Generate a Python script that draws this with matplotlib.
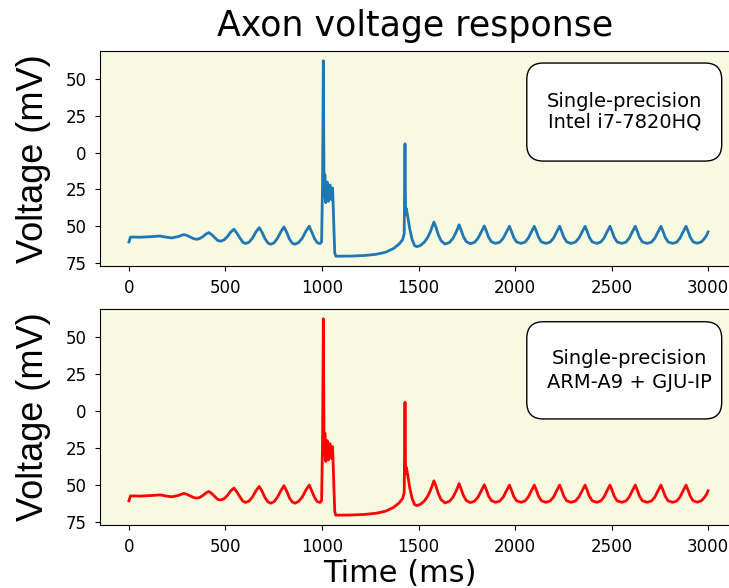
import matplotlib
matplotlib.use('Agg')
import matplotlib.pyplot as plt
from matplotlib.patches import FancyBboxPatch

# membrane voltage (time in ms, voltage in mV)
t_ms = [0, 8, 60, 120, 160, 190, 221, 255,
        285, 300, 318, 335, 351, 367, 383, 400,
        414, 430, 445, 460, 475, 493, 510, 528,
        544, 560, 575, 590, 604, 622, 640, 658,
        675, 690, 705, 720, 734, 752, 770, 788,
        803, 818, 832, 846, 860, 879, 898, 917,
        934, 948, 962, 976, 990, 998,
        1003, 1007, 1011, 1015, 1020, 1027, 1034, 1042, 1050, 1055, 1060, 1066,
        1072, 1150, 1220, 1280, 1330, 1370, 1400, 1418, 1426,
        1430, 1433, 1437, 1445, 1455, 1467, 1480, 1492, 1510, 1530, 1548, 1562, 1572,
        1580, 1590, 1602, 1617, 1637, 1660, 1678, 1693, 1703,
        1710, 1720, 1732, 1747, 1768, 1790, 1808, 1822, 1833,
        1841, 1851, 1863, 1878, 1899, 1921, 1939, 1953, 1964,
        1971, 1981, 1993, 2008, 2031, 2052, 2069, 2082, 2093,
        2100, 2110, 2122, 2137, 2160, 2182, 2200, 2213, 2224,
        2231, 2241, 2253, 2268, 2291, 2313, 2331, 2345, 2356,
        2363, 2373, 2385, 2400, 2423, 2444, 2461, 2474, 2485,
        2492, 2502, 2514, 2529, 2553, 2575, 2592, 2605, 2616,
        2623, 2633, 2645, 2660, 2685, 2707, 2725, 2738, 2749,
        2756, 2766, 2778, 2793, 2817, 2838, 2855, 2868, 2879,
        2886, 2896, 2908, 2923, 2944, 2965, 2982, 2993, 3000]

v_intel = [-60.6, -57.3, -57.4, -57.0, -56.6, -57.3, -57.9, -57.0,
           -55.6, -56.2, -57.3, -58.4, -58.8, -58.3, -57.0, -55.2,
           -54.3, -55.8, -57.8, -59.6, -60.1, -59.2, -57.0, -53.8,
           -52.0, -54.8, -58.0, -60.8, -61.7, -60.8, -58.0, -53.8,
           -50.9, -54.2, -58.5, -61.3, -62.2, -61.2, -58.0, -53.5,
           -50.4, -54.3, -58.8, -61.4, -62.2, -61.0, -58.0, -53.3,
           -50.0, -54.3, -58.5, -61.2, -61.7, -60.5,
           -20.0, 62.2, -30.0, -15.0, -34.0, -20.0, -33.0, -22.0, -32.0, -24.0, -45.0, -68.0,
           -70.3, -70.2, -69.8, -69.0, -67.6, -65.1, -62.0, -59.0, -55.0,
           5.9, -42.0, -38.0, -44.0, -52.0, -59.0, -63.2, -63.8, -63.0, -60.8, -57.5, -53.5, -50.0,
           -47.1, -50.5, -55.5, -59.8, -62.0, -61.0, -58.3, -54.5, -51.5,
           -49.0, -52.3, -56.8, -60.3, -61.8, -60.9, -58.2, -54.6, -51.8,
           -49.8, -53.0, -57.4, -60.5, -61.6, -60.8, -58.1, -54.6, -51.9,
           -50.0, -53.2, -57.5, -60.6, -61.6, -60.7, -58.0, -54.5, -51.8,
           -50.0, -53.2, -57.5, -60.6, -61.6, -60.7, -58.0, -54.5, -51.8,
           -50.0, -53.2, -57.5, -60.6, -61.6, -60.7, -58.0, -54.5, -51.8,
           -50.0, -53.2, -57.5, -60.6, -61.6, -60.7, -58.0, -54.5, -51.8,
           -50.0, -53.2, -57.5, -60.6, -61.6, -60.7, -58.0, -54.5, -51.8,
           -50.0, -53.2, -57.5, -60.6, -61.6, -60.7, -58.0, -54.5, -51.8,
           -50.0, -53.2, -57.5, -60.6, -61.6, -60.7, -58.0, -54.5, -51.8,
           -50.0, -53.2, -57.5, -60.6, -61.5, -60.6, -58.2, -56.0, -53.8]

# the ARM + GJU-IP run is indistinguishable from the Intel one by eye
v_arm = list(v_intel)

ytick_vals = [-75, -50, -25, 0, 25, 50]
ytick_text = ['75', '50', '25', '0', '25', '50']   # minus signs are missing in the original
labels = ['Single-precision\nIntel i7-7820HQ', 'Single-precision\nARM-A9 + GJU-IP']

W, H = 729, 588
fig = plt.figure(figsize=(W / 100, H / 100), dpi=100)

ax1 = fig.add_axes([100 / W, 1 - 266 / H, 637 / W, 215 / H])
ax2 = fig.add_axes([100 / W, 1 - 525 / H, 637 / W, 216 / H])

ax1.plot(t_ms, v_intel, color='#1f77b4', lw=2)
ax2.plot(t_ms, v_arm, color='red', lw=2)

boxes = [(0.670, 0.488, 0.456, 0.823, 0.718, 1.1),
         (0.670, 0.491, 0.450, 0.831, 0.716, 1.35)]
for ax, lab, (bx, by, bh, tx, ty, ls) in zip([ax1, ax2], labels, boxes):
    ax.set_facecolor('#f8f9e1')
    ax.set_yticks(ytick_vals)
    ax.set_yticklabels(ytick_text)
    ax.tick_params(labelsize=12, pad=6)
    box = FancyBboxPatch((bx, by), 0.306, bh, transform=ax.transAxes,
                         boxstyle='round,pad=0,rounding_size=0.026',
                         mutation_aspect=637 / 215,
                         facecolor='white', edgecolor='black', lw=1, zorder=5)
    ax.add_patch(box)
    ax.text(tx, ty, lab, transform=ax.transAxes, ha='center', va='center',
            fontsize=14, linespacing=ls, zorder=6)
    ax.set_ylabel('Voltage (mV)', fontsize=26, family='Liberation Sans', va='baseline')

ax1.yaxis.set_label_coords(43 / W, 1 - 158.5 / H, transform=fig.transFigure)
ax2.yaxis.set_label_coords(43 / W, 1 - 417 / H, transform=fig.transFigure)

ax2.set_xlabel('Time (ms)', fontsize=22, va='baseline')
ax2.xaxis.set_label_coords(400 / W, 1 - 582 / H, transform=fig.transFigure)

fig.text(415 / W, 1 - 36 / H, 'Axon voltage response', fontsize=25,
         ha='center', va='baseline')

fig.savefig('out.png', dpi=100)
